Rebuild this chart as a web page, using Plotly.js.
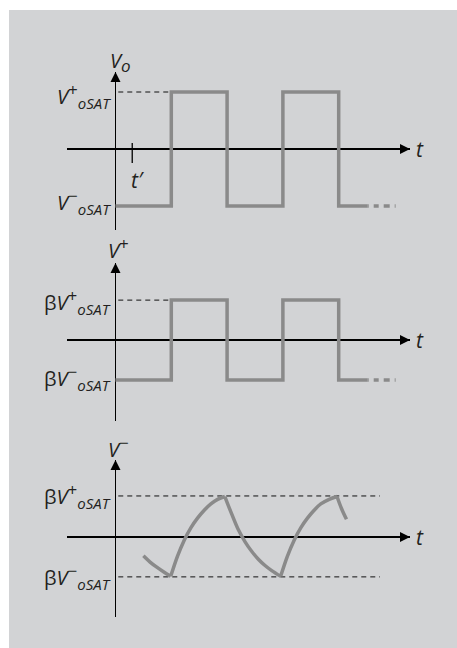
<!DOCTYPE html>
<html>
<head>
<meta charset="utf-8">
<script src="https://cdn.plot.ly/plotly-3.0.1.min.js"></script>
<style>
  html, body { margin: 0; padding: 0; background: #fff; }
  #chart { width: 457px; height: 648px; }
</style>
</head>
<body>
<div id="chart"></div>
<script>
// levels (V_oSAT = 1, beta = 0.7)
var vSat = 1;
var beta = 0.7;

// square waves: switching instants (half periods) and levels
var switchT = [0, 1, 2, 3, 4, 4.52];
var voLevels = [-1, 1, -1, 1, -1, -1];
var vpLevels = [-0.7, 0.7, -0.7, 0.7, -0.7, -0.7];
var tailT = [4.52, 5.02];

// capacitor voltage V-
var vmT = [0.50, 0.62, 0.74, 0.86, 0.99,
  1.11, 1.23, 1.35, 1.47, 1.59, 1.71, 1.83, 1.96,
  2.08, 2.20, 2.32, 2.44, 2.56, 2.68, 2.80, 2.96,
  3.08, 3.20, 3.32, 3.44, 3.56, 3.68, 3.83, 3.97,
  4.05, 4.14];
var vmV = [-0.33, -0.44, -0.53, -0.61, -0.69,
  -0.34, -0.06, 0.16, 0.33, 0.47, 0.58, 0.66, 0.71,
  0.41, 0.13, -0.08, -0.25, -0.39, -0.50, -0.59, -0.69,
  -0.34, -0.06, 0.16, 0.33, 0.47, 0.58, 0.66, 0.71,
  0.50, 0.31];

var tPrime = 0.3;
var guideEnd = 4.74;

var waveColor = '#8a8a8a';
var font = 'Open Sans, sans-serif';
var xr = [-0.869, 5.278];
var yr = [-1.421, 1.351];
var yr3 = [-1.404, 1.351];

function wave(x, y, ya) {
  return {x: x, y: y, xaxis: 'x', yaxis: ya, type: 'scatter', mode: 'lines',
    line: {shape: 'hv', color: waveColor, width: 3.5}, hoverinfo: 'skip'};
}
function tail(level, ya) {
  return {x: tailT, y: [level, level], xaxis: 'x', yaxis: ya, type: 'scatter', mode: 'lines',
    line: {color: waveColor, width: 3.5, dash: '1px,5px,5px,5px,6px,5px,1px'}, hoverinfo: 'skip'};
}

var data = [
  wave(switchT, voLevels, 'y'), tail(-vSat, 'y'),
  wave(switchT, vpLevels, 'y2'), tail(-beta * vSat, 'y2')
];

// split V- curve into rising / falling pieces so the corners stay sharp
var start = 0;
for (var i = 1; i < vmT.length; i++) {
  var last = i === vmT.length - 1;
  var turn = !last && (vmV[i] - vmV[i - 1]) * (vmV[i + 1] - vmV[i]) < 0;
  if (turn || last) {
    data.push({x: vmT.slice(start, i + 1), y: vmV.slice(start, i + 1), xaxis: 'x', yaxis: 'y3',
      type: 'scatter', mode: 'lines', line: {shape: 'spline', smoothing: 1, color: waveColor, width: 3.5},
      hoverinfo: 'skip'});
    start = i;
  }
}

function dashLine(x0, x1, y, ya) {
  return {type: 'line', xref: 'x', yref: ya, x0: x0, x1: x1, y0: y, y1: y,
    line: {color: '#111', width: 1, dash: '5px,4px'}, layer: 'below'};
}
function rightArrow(ya) {
  return {type: 'path', xref: 'x', yref: ya, xsizemode: 'pixel', ysizemode: 'pixel',
    xanchor: xr[1], yanchor: 0, path: 'M0,0 L-10,-5 L-10,5 Z', fillcolor: '#000', line: {width: 0}};
}
function upArrow(ya, top) {
  return {type: 'path', xref: 'x', yref: ya, xsizemode: 'pixel', ysizemode: 'pixel',
    xanchor: 0, yanchor: top, path: 'M0,0 L-5,-10 L5,-10 Z', fillcolor: '#000', line: {width: 0}};
}

var shapes = [
  {type: 'rect', xref: 'paper', yref: 'paper', x0: 9 / 457, x1: 1, y0: 0, y1: 1 - 10 / 648,
    fillcolor: '#d2d3d5', line: {width: 0}, layer: 'below'},
  dashLine(0.05, 1, vSat, 'y'),
  dashLine(0.05, 1, beta * vSat, 'y2'),
  dashLine(0.05, guideEnd, 0.72, 'y3'),
  dashLine(0.05, guideEnd, -beta * vSat, 'y3'),
  {type: 'line', xref: 'x', yref: 'y', x0: tPrime, x1: tPrime, y0: 0.105, y1: -0.246,
    line: {color: '#000', width: 1.3}},
  rightArrow('y'), rightArrow('y2'), rightArrow('y3'),
  upArrow('y', yr[1]), upArrow('y2', yr[1]), upArrow('y3', yr3[1])
];

function label(text, x, y, ya, opts) {
  var a = {text: text, x: x, y: y, xref: 'x', yref: ya, showarrow: false,
    font: {family: font, size: 20, color: '#231f20'}, xanchor: 'right', yanchor: 'middle', xshift: -2};
  for (var k in opts) a[k] = opts[k];
  return a;
}
var plus = '<sup><span style="font-size:17px">+</span></sup>';
var minus = '<sup><span style="font-size:17px">\u2212</span></sup>';
var sat = '<sub><i><span style="font-size:15px">oSAT</span></i></sub>';
var annotations = [
  label('<i>V</i>' + plus + sat, 0, vSat, 'y', {yshift: -3}),
  label('<i>V</i>' + minus + sat, 0, -vSat, 'y', {yshift: 5}),
  label('\u03b2<i>V</i>' + plus + sat, 0, beta, 'y2', {yshift: -1}),
  label('\u03b2<i>V</i>' + minus + sat, 0, -beta, 'y2', {yshift: 2}),
  label('\u03b2<i>V</i>' + plus + sat, 0, 0.72, 'y3'),
  label('\u03b2<i>V</i>' + minus + sat, 0, -beta, 'y3'),
  label('<i>V</i><sub><i><span style="font-size:17px">o</span></i></sub>', 0, 1 - 62 / 648, 'paper', {xanchor: 'center', xshift: 5}),
  label('<i>V</i>' + plus, 0, 1 - 248 / 648, 'paper', {xanchor: 'center', xshift: 3}),
  label('<i>V</i>' + minus, 0, 1 - 447 / 648, 'paper', {xanchor: 'center', xshift: 3}),
  label('<i>t\u2032</i>', tPrime, -0.54, 'y', {xanchor: 'center', xshift: 5, font: {family: font, size: 21, color: '#231f20'}}),
  label('<i>t</i>', xr[1], 0, 'y', {xanchor: 'left', xshift: 4, font: {family: font, size: 21, color: '#231f20'}}),
  label('<i>t</i>', xr[1], 0, 'y2', {xanchor: 'left', xshift: 4, font: {family: font, size: 21, color: '#231f20'}}),
  label('<i>t</i>', xr[1], 0, 'y3', {xanchor: 'left', xshift: 4, font: {family: font, size: 21, color: '#231f20'}})
];

function yax(dom, range) {
  return {domain: dom, range: range, showgrid: false, showticklabels: false, ticks: '',
    showline: false, zeroline: true, zerolinecolor: '#000', zerolinewidth: 1.3, fixedrange: true};
}

var layout = {
  width: 457, height: 648,
  margin: {l: 0, r: 0, t: 0, b: 0},
  paper_bgcolor: '#fff',
  plot_bgcolor: 'rgba(0,0,0,0)',
  showlegend: false,
  xaxis: {domain: [67 / 457, 410 / 457], range: xr, showgrid: false, showticklabels: false, ticks: '',
    showline: false, zeroline: true, zerolinecolor: '#000', zerolinewidth: 1.3, fixedrange: true},
  yaxis: yax([1 - 230 / 648, 1 - 72 / 648], yr),
  yaxis2: yax([1 - 421 / 648, 1 - 263 / 648], yr),
  yaxis3: yax([1 - 617 / 648, 1 - 460 / 648], yr3),
  shapes: shapes,
  annotations: annotations
};

Plotly.newPlot('chart', data, layout, {displayModeBar: false, staticPlot: true});
</script>
</body>
</html>
